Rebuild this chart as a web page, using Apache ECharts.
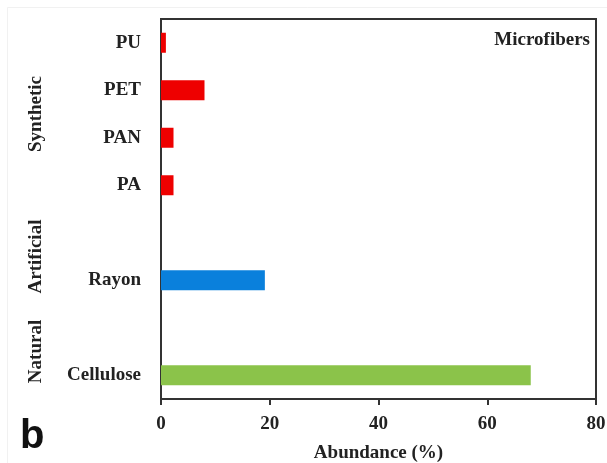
<!DOCTYPE html>
<html>
<head>
<meta charset="utf-8">
<style>
  html, body { margin: 0; padding: 0; background: #fff; }
  #chart { width: 607px; height: 463px; }
</style>
<script src="https://cdn.jsdelivr.net/npm/echarts@6/dist/echarts.min.js"></script>
</head>
<body>
<div id="chart"></div>
<script>
// Fibre types, bottom to top; blank slots separate the groups
const categories = ['Cellulose', ' ', 'Rayon', '  ', 'PA', 'PAN', 'PET', 'PU'];
const abundance  = [68, null, 19.1, null, 2.3, 2.3, 8, 0.9];
const barColors  = ['#8bc34a', null, '#0a80dc', null, '#ee0000', '#ee0000', '#ee0000', '#ee0000'];

// Fibre origin groups: label and the category range they cover
const groupNames = ['Natural', 'Artificial', 'Synthetic'];
const groupFrom  = ['Cellulose', 'Rayon', 'PA'];
const groupTo    = [' ', '  ', 'PU'];

const xTicks = [0, 20, 40, 60, 80];

const SERIF = '"Liberation Serif", "Times New Roman", serif';
const INK = '#222';
const FS = 19;

const chart = echarts.init(document.getElementById('chart'), null, { renderer: 'canvas' });

const option = {
  animation: false,
  backgroundColor: '#fff',
  grid: {
    left: 161, right: 11, top: 19, bottom: 64,
    outerBoundsMode: 'none',
    containLabel: false,
    show: true, borderColor: '#333', borderWidth: 2, backgroundColor: 'transparent'
  },
  xAxis: {
    type: 'value',
    min: xTicks[0], max: xTicks[xTicks.length - 1], interval: 20,
    name: 'Abundance (%)',
    nameLocation: 'middle',
    nameGap: 45,
    nameTextStyle: { fontFamily: SERIF, fontWeight: 'bold', fontSize: FS, color: INK },
    axisLine: { show: true, lineStyle: { color: '#333', width: 2 } },
    axisTick: { show: true, length: 6, lineStyle: { color: '#333', width: 2 } },
    axisLabel: { margin: 16, fontFamily: SERIF, fontWeight: 'bold', fontSize: FS, color: INK },
    splitLine: { show: false }
  },
  yAxis: {
    type: 'category',
    data: categories,
    axisLine: { show: true, lineStyle: { color: '#333', width: 2 } },
    axisTick: { show: false },
    axisLabel: { margin: 20, fontFamily: SERIF, fontWeight: 'bold', fontSize: FS, color: INK }
  },
  series: [{
    type: 'bar',
    barWidth: 20,
    data: abundance.map((v, i) => ({ value: v, itemStyle: { color: barColors[i] } }))
  }],
  graphic: []
};

chart.setOption(option);

// Rotated group labels centred on the category slots they span
const groupGraphics = groupNames.map((name, i) => {
  const y1 = chart.convertToPixel({ yAxisIndex: 0 }, groupFrom[i]);
  const y2 = chart.convertToPixel({ yAxisIndex: 0 }, groupTo[i]);
  return {
    type: 'text',
    x: 36, y: (y1 + y2) / 2,
    rotation: Math.PI / 2,
    style: {
      text: name, fill: INK,
      font: 'bold ' + FS + 'px ' + SERIF,
      align: 'center', verticalAlign: 'middle'
    }
  };
});

chart.setOption({
  graphic: [
    {
      type: 'rect', silent: true,
      shape: { x: 7.5, y: 7.5, width: 620, height: 470 },
      style: { fill: 'none', stroke: '#f1f1f1', lineWidth: 1 }
    },
    {
      type: 'text', x: 590, y: 40,
      style: {
        text: 'Microfibers', fill: INK,
        font: 'bold ' + FS + 'px ' + SERIF,
        align: 'right', verticalAlign: 'middle'
      }
    },
    {
      type: 'text', x: 20, y: 437,
      style: {
        text: 'b', fill: '#111',
        font: 'bold 40px "Liberation Sans", Arial, sans-serif',
        align: 'left', verticalAlign: 'middle'
      }
    }
  ].concat(groupGraphics)
});
</script>
</body>
</html>
